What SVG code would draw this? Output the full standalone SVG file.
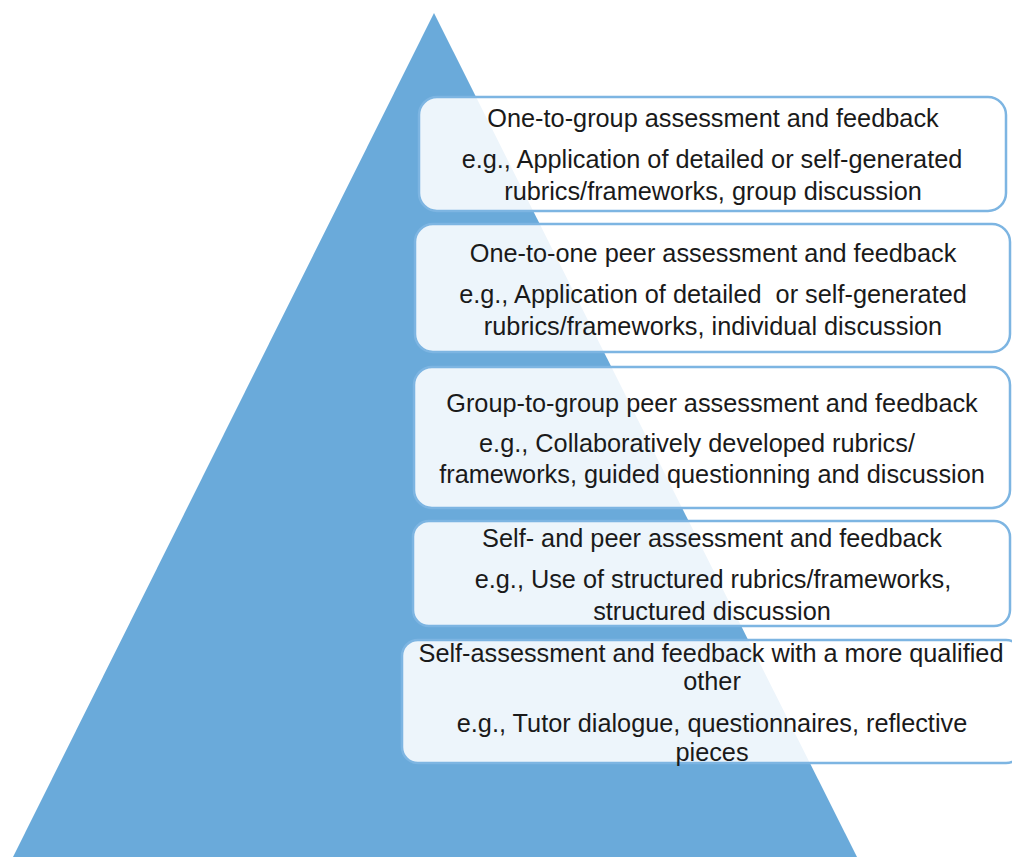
<svg xmlns="http://www.w3.org/2000/svg" width="1012" height="857" viewBox="0 0 1012 857">
<style>
.box{fill:#ffffff;fill-opacity:0.88;stroke:#7db5e2;stroke-width:2.5}
.t{font-family:"Liberation Sans",Arial,sans-serif;font-size:25.3px;fill:#1a1a1a;text-anchor:middle}
</style>
<rect width="1012" height="857" fill="#ffffff"/>
<g id="pyramid">
<polygon points="434,13 857,857 13,857" fill="#6aaada"/>
</g>
<g id="connectors"></g>
<g id="box1">
<rect class="box" x="419" y="97" width="587" height="114" rx="18"/>
<text class="t" x="713" y="127">One-to-group assessment and feedback</text>
<text class="t" x="712" y="168">e.g., Application of detailed or self-generated</text>
<text class="t" x="713" y="200">rubrics/frameworks, group discussion</text>
</g>
<g id="box2">
<rect class="box" x="415" y="224" width="595" height="128" rx="18"/>
<text class="t" x="713" y="262">One-to-one peer assessment and feedback</text>
<text class="t" x="713" y="303" xml:space="preserve">e.g., Application of detailed  or self-generated</text>
<text class="t" x="713" y="335">rubrics/frameworks, individual discussion</text>
</g>
<g id="box3">
<rect class="box" x="414" y="367" width="596" height="141" rx="18"/>
<text class="t" x="712" y="412">Group-to-group peer assessment and feedback</text>
<text class="t" x="697" y="452">e.g., Collaboratively developed rubrics/</text>
<text class="t" x="712" y="483">frameworks, guided questionning and discussion</text>
</g>
<g id="box4">
<rect class="box" x="413" y="521" width="597" height="105" rx="16"/>
<text class="t" x="712" y="547">Self- and peer assessment and feedback</text>
<text class="t" x="713" y="588">e.g., Use of structured rubrics/frameworks,</text>
<text class="t" x="712" y="620">structured discussion</text>
</g>
<g id="box5">
<rect class="box" x="402" y="640" width="620" height="123" rx="16"/>
<text class="t" x="711" y="662">Self-assessment and feedback with a more qualified</text>
<text class="t" x="712" y="690">other</text>
<text class="t" x="712" y="732">e.g., Tutor dialogue, questionnaires, reflective</text>
<text class="t" x="712" y="761">pieces</text>
</g>
</svg>
